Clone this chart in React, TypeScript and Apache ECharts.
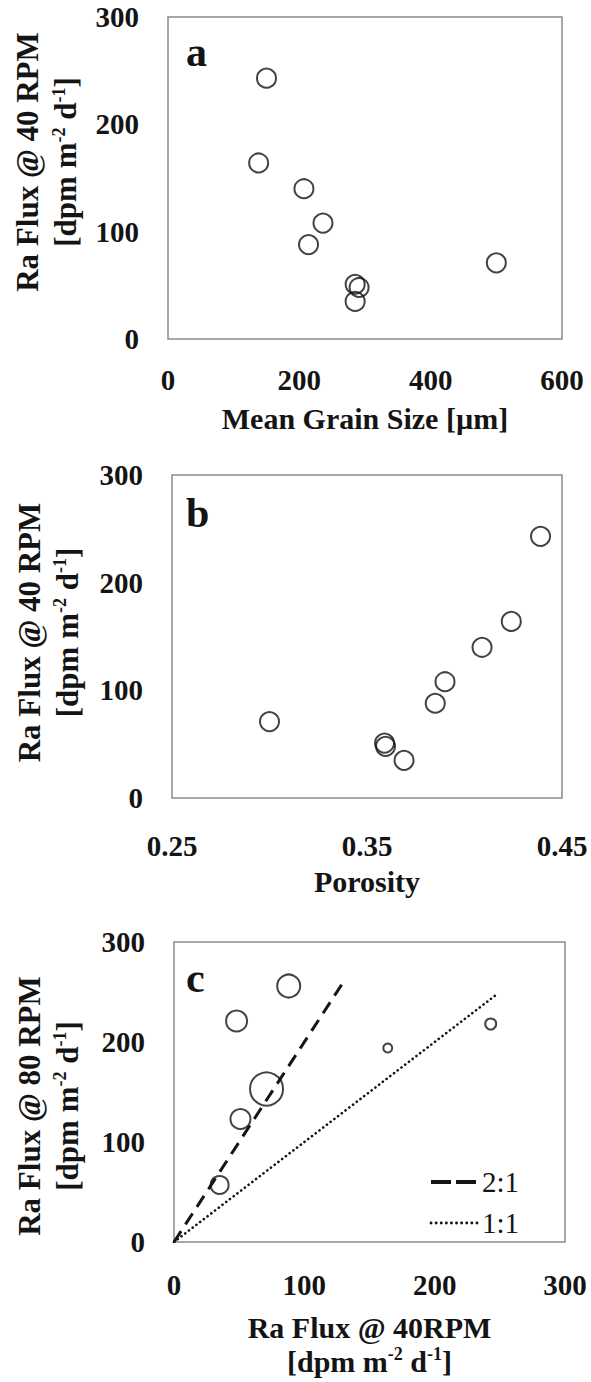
import React, { useEffect, useRef } from 'react';
import * as echarts from 'echarts';

// ---------- data ----------
const fluxAt40 = [243, 164, 140, 108, 88, 51, 48, 35, 71];
const grainSize = [150, 138, 207, 236, 214, 285, 291, 285, 500];
const porosity = [0.439, 0.424, 0.409, 0.39, 0.385, 0.359, 0.3595, 0.369, 0.3];

const cFlux40 = [88, 48, 71, 51, 35, 164, 243];
const cFlux80 = [256, 221, 153, 123, 57, 194, 218];
const cBubble = [23, 21, 33, 20, 18, 9, 11];

const ratio2to1X = [0, 129];
const ratio2to1Y = [0, 258];
const ratio1to1X = [0, 248];
const ratio1to1Y = [0, 248];

const grainTicks = [0, 200, 400, 600];
const fluxTicks = [0, 100, 200, 300];
const porosityTicks = [0.25, 0.35, 0.45];
const flux40Ticks = [0, 100, 200, 300];

const panelLetters = ['a', 'b', 'c'];

// ---------- styling ----------
const FONT = "'Liberation Serif', 'Times New Roman', Times, serif";
const INK = '#141414';
const FRAME = '#8a8a8a';

const supRich = {
  sup: { fontSize: 18, fontWeight: 'bold', fontFamily: FONT, color: INK, padding: [0, 0, 14, 0] },
};

const grids = [
  { left: 168, top: 17, width: 394, height: 322 },
  { left: 172, top: 475, width: 390, height: 323 },
  { left: 174, top: 942, width: 391, height: 300 },
];

function axis(gridIndex: number, ticks: number[], extra: any) {
  return {
    type: 'value',
    gridIndex,
    min: ticks[0],
    max: ticks[ticks.length - 1],
    interval: ticks[1] - ticks[0],
    axisLine: { show: false },
    axisTick: { show: false },
    splitLine: { show: false },
    ...extra,
  };
}

const tickStyle = { fontFamily: FONT, fontSize: 29, fontWeight: 'bold', color: INK };
const nameStyle = { fontFamily: FONT, fontSize: 30, fontWeight: 'bold', color: INK };

const yName = (rpm: string) => `Ra Flux @ ${rpm} RPM\n[dpm m{sup|-2} d{sup|-1}]`;

function buildOption() {
  const xAxes = [
    axis(0, grainTicks, {
      axisLabel: { ...tickStyle, margin: 26 },
      name: 'Mean Grain Size [µm]',
      nameLocation: 'middle',
      nameGap: 64,
      nameTextStyle: { ...nameStyle },
    }),
    axis(1, porosityTicks, {
      axisLabel: { ...tickStyle, margin: 33, formatter: (v: number) => v.toFixed(2) },
      name: 'Porosity',
      nameLocation: 'middle',
      nameGap: 68,
      nameTextStyle: { ...nameStyle },
    }),
    axis(2, flux40Ticks, {
      axisLabel: { ...tickStyle, margin: 28 },
      name: 'Ra Flux @ 40RPM\n[dpm m{sup|-2} d{sup|-1}]',
      nameLocation: 'middle',
      nameGap: 68,
      nameTextStyle: { ...nameStyle, lineHeight: 34, rich: supRich },
    }),
  ];
  const yPads = [
    [0, 0, 0, 32],
    [0, 0, 0, 8],
    [0, 28, 0, 0],
  ];
  const yGaps = [82, 86, 88];
  const yAxes = [0, 1, 2].map((i) =>
    axis(i, fluxTicks, {
      axisLabel: { ...tickStyle, margin: 29, padding: [9, 0, 0, 0] },
      name: yName(i === 2 ? '80' : '40'),
      nameLocation: 'middle',
      nameRotate: 90,
      nameGap: yGaps[i],
      nameTextStyle: { ...nameStyle, fontSize: 31, lineHeight: 38, rich: supRich, padding: yPads[i] },
    })
  );

  const ring = { color: 'rgba(0,0,0,0)', borderColor: INK, borderWidth: 2 };
  const noSymbol = { color: 'rgba(0,0,0,0)', borderWidth: 0, opacity: 0 };

  return {
    animation: false,
    backgroundColor: '#ffffff',
    grid: grids.map((g) => ({ ...g, show: true, borderColor: FRAME, borderWidth: 1.5, backgroundColor: 'transparent' })),
    xAxis: xAxes,
    yAxis: yAxes,
    legend: {
      show: true,
      orient: 'vertical',
      left: 424,
      top: 1162,
      itemWidth: 46,
      itemHeight: 12,
      itemGap: 11,
      selectedMode: false,
      textStyle: { fontFamily: FONT, fontSize: 29, color: INK, lineHeight: 30 },
      data: [
        { name: '2:1', itemStyle: noSymbol, lineStyle: { type: [20, 5], width: 4, color: INK } },
        { name: '1:1', itemStyle: noSymbol, lineStyle: { type: [0.1, 5], width: 2.8, color: INK, cap: 'round' } },
      ],
    },
    graphic: panelLetters.map((t, i) => ({
      type: 'text',
      left: 186,
      top: [31, 492, 957][i],
      silent: true,
      style: { text: t, font: `bold 42px ${FONT}`, fill: INK },
    })),
    series: [
      {
        type: 'scatter',
        xAxisIndex: 0,
        yAxisIndex: 0,
        symbol: 'circle',
        symbolSize: 19,
        itemStyle: ring,
        silent: true,
        data: grainSize.map((g, i) => [g, fluxAt40[i]]),
      },
      {
        type: 'scatter',
        xAxisIndex: 1,
        yAxisIndex: 1,
        symbol: 'circle',
        symbolSize: 19,
        itemStyle: ring,
        silent: true,
        data: porosity.map((p, i) => [p, fluxAt40[i]]),
      },
      {
        name: '2:1',
        type: 'line',
        xAxisIndex: 2,
        yAxisIndex: 2,
        symbol: 'none',
        silent: true,
        itemStyle: { color: INK },
        lineStyle: { color: INK, width: 3, type: [13, 8] },
        data: ratio2to1X.map((x, i) => [x, ratio2to1Y[i]]),
      },
      {
        name: '1:1',
        type: 'line',
        xAxisIndex: 2,
        yAxisIndex: 2,
        symbol: 'none',
        silent: true,
        itemStyle: { color: INK },
        lineStyle: { color: INK, width: 2.6, type: [0.1, 4.6], cap: 'round' },
        data: ratio1to1X.map((x, i) => [x, ratio1to1Y[i]]),
      },
      {
        type: 'scatter',
        xAxisIndex: 2,
        yAxisIndex: 2,
        symbol: 'circle',
        symbolSize: (v: number[]) => v[2],
        itemStyle: ring,
        silent: true,
        data: cFlux40.map((x, i) => [x, cFlux80[i], cBubble[i]]),
      },
    ],
  };
}

export default function App() {
  const ref = useRef<HTMLDivElement>(null);
  useEffect(() => {
    if (!ref.current) return;
    const chart = echarts.init(ref.current, null, { renderer: 'svg' });
    chart.setOption(buildOption() as any);
    return () => chart.dispose();
  }, []);
  return (
    <div
      ref={ref}
      style={{ position: 'absolute', left: 0, top: 0, width: 591, height: 1382, background: '#fff' }}
    />
  );
}
